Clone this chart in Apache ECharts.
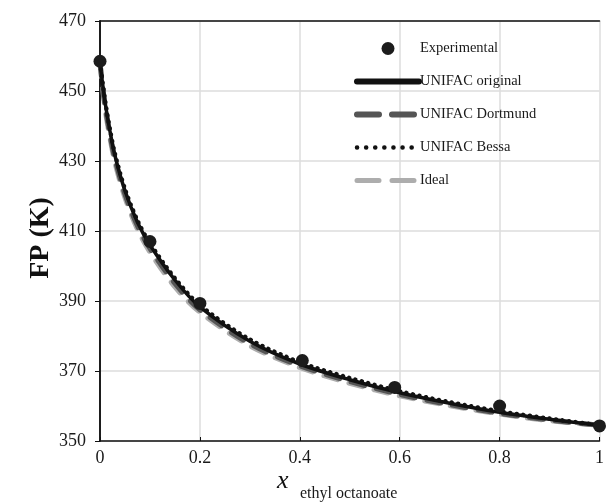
<!DOCTYPE html>
<html>
<head>
<meta charset="utf-8">
<script src="https://cdn.jsdelivr.net/npm/echarts@6/dist/echarts.min.js"></script>
<style>html,body{margin:0;padding:0;background:#fff}#c{width:607px;height:502px}</style>
</head>
<body>
<div id="c"></div>
<script>
const expX = [0, 0.1, 0.2, 0.405, 0.59, 0.8, 1.0];
const expY = [458.5, 407, 389.3, 373, 365.3, 360, 354.3];

const curveX      = [0, 0.01, 0.02, 0.03, 0.05, 0.075, 0.1, 0.15, 0.2, 0.3, 0.4, 0.5, 0.6, 0.7, 0.8, 0.9, 1.0];
const unifacOrig  = [458, 447, 438.5, 431.5, 421.5, 412.5, 406, 396, 388.3, 378.5, 372, 367.5, 363.8, 360.8, 358.2, 356.2, 354.5];
const unifacDort  = [458, 446, 437.5, 430.5, 420.5, 411.5, 405, 395, 387.5, 377.8, 371.5, 367, 363.3, 360.4, 357.9, 356, 354.5];
const unifacBessa = [458, 447.5, 439, 432, 422, 413, 406.5, 396.5, 388.8, 379, 372.5, 368, 364.2, 361.1, 358.5, 356.4, 354.5];
const ideal       = [458, 445, 436.5, 429.5, 419.5, 410.5, 404, 394, 386.8, 377.2, 371, 366.5, 362.9, 360.1, 357.7, 355.8, 354.5];

const xTicks = [0, 0.2, 0.4, 0.6, 0.8, 1];
const yTicks = [350, 370, 390, 410, 430, 450, 470];
const seriesNames = ['Experimental', 'UNIFAC original', 'UNIFAC Dortmund', 'UNIFAC Bessa', 'Ideal'];

const pair = (xs, ys) => xs.map((x, i) => [x, ys[i]]);
const serif = '"Liberation Serif", "DejaVu Serif", serif';
const xMin = xTicks[0], xMax = xTicks[xTicks.length - 1];
const yMin = yTicks[0], yMax = yTicks[yTicks.length - 1];

const legendLine = {
  'UNIFAC original': {width: 6, type: 'solid', cap: 'round'},
  'UNIFAC Dortmund': {width: 6, type: [22, 13], cap: 'round'},
  'UNIFAC Bessa': {width: 4.5, type: [0.1, 9], cap: 'round'},
  'Ideal': {width: 5, type: [22, 13], cap: 'round'}
};

const chart = echarts.init(document.getElementById('c'), null, {renderer: 'canvas'});
chart.setOption({
  animation: false,
  backgroundColor: '#fff',
  grid: {left: 100, right: 4, top: 21, bottom: 61},
  legend: {
    orient: 'vertical', left: 349, top: 36, itemGap: 18, itemWidth: 62, itemHeight: 13,
    data: seriesNames.map(n => n === 'Experimental' ? {name: n, itemStyle: {opacity: 1}} :
      {name: n, itemStyle: {opacity: 0}, lineStyle: legendLine[n]}),
    textStyle: {fontFamily: serif, fontSize: 14.5, color: '#1a1a1a', padding: [0, 0, 0, -4]}
  },
  xAxis: [{
    type: 'value', min: xMin, max: xMax, interval: 0.2,
    axisLine: {lineStyle: {color: '#111', width: 1.5}},
    axisTick: {show: true, inside: true, length: 4, lineStyle: {color: '#111'}},
    axisLabel: {fontFamily: serif, fontSize: 18, color: '#1a1a1a', margin: 8,
      formatter: v => String(+v.toFixed(1))},
    splitLine: {show: true, lineStyle: {color: '#dcdcdc', width: 1.5}}
  }, {
    type: 'value', position: 'top', min: xMin, max: xMax, interval: 0.2,
    axisLine: {show: true, lineStyle: {color: '#111', width: 1.5}},
    axisTick: {show: false}, axisLabel: {show: false}, splitLine: {show: false}
  }],
  yAxis: [{
    type: 'value', min: yMin, max: yMax, interval: 20,
    axisLine: {lineStyle: {color: '#111', width: 1.5}},
    axisTick: {show: true, length: 5, lineStyle: {color: '#111'}},
    axisLabel: {fontFamily: serif, fontSize: 18, color: '#1a1a1a', margin: 14},
    splitLine: {show: true, lineStyle: {color: '#dcdcdc', width: 1.5}}
  }, {
    type: 'value', position: 'right', min: yMin, max: yMax, interval: 20,
    axisLine: {show: true, lineStyle: {color: '#111', width: 1.5}},
    axisTick: {show: false}, axisLabel: {show: false}, splitLine: {show: false}
  }],
  graphic: [
    {type: 'text', x: 41, y: 238, rotation: Math.PI / 2,
      style: {text: 'FP (K)', font: 'bold 28px ' + serif, fill: '#111', textAlign: 'center', textVerticalAlign: 'middle'}},
    {type: 'text', x: 277, y: 468, style: {text: 'x', font: 'italic 26px ' + serif, fill: '#111'}},
    {type: 'text', x: 300, y: 486, style: {text: 'ethyl octanoate', font: '16px ' + serif, fill: '#1a1a1a'}}
  ],
  series: [
    {name: 'Ideal', type: 'line', data: pair(curveX, ideal), showSymbol: false, symbol: 'none', smooth: 0.3, z: 2,
      lineStyle: {color: '#adadad', width: 5, type: [14, 12], cap: 'round'}, itemStyle: {color: '#adadad'}},
    {name: 'UNIFAC Dortmund', type: 'line', data: pair(curveX, unifacDort), showSymbol: false, symbol: 'none', smooth: 0.3, z: 3,
      lineStyle: {color: '#555', width: 5, type: [14, 12], cap: 'round'}, itemStyle: {color: '#555'}},
    {name: 'UNIFAC original', type: 'line', data: pair(curveX, unifacOrig), showSymbol: false, symbol: 'none', smooth: 0.3, z: 4,
      lineStyle: {color: '#111', width: 3.5}, itemStyle: {color: '#111'}},
    {name: 'UNIFAC Bessa', type: 'line', data: pair(curveX, unifacBessa), showSymbol: false, symbol: 'none', smooth: 0.3, z: 5,
      lineStyle: {color: '#111', width: 4.5, type: [0.1, 6.5], cap: 'round'}, itemStyle: {color: '#111'}},
    {name: 'Experimental', type: 'scatter', data: pair(expX, expY), symbol: 'circle', symbolSize: 13, z: 6,
      itemStyle: {color: '#1c1c1c', opacity: 1}}
  ]
});
</script>
</body>
</html>
